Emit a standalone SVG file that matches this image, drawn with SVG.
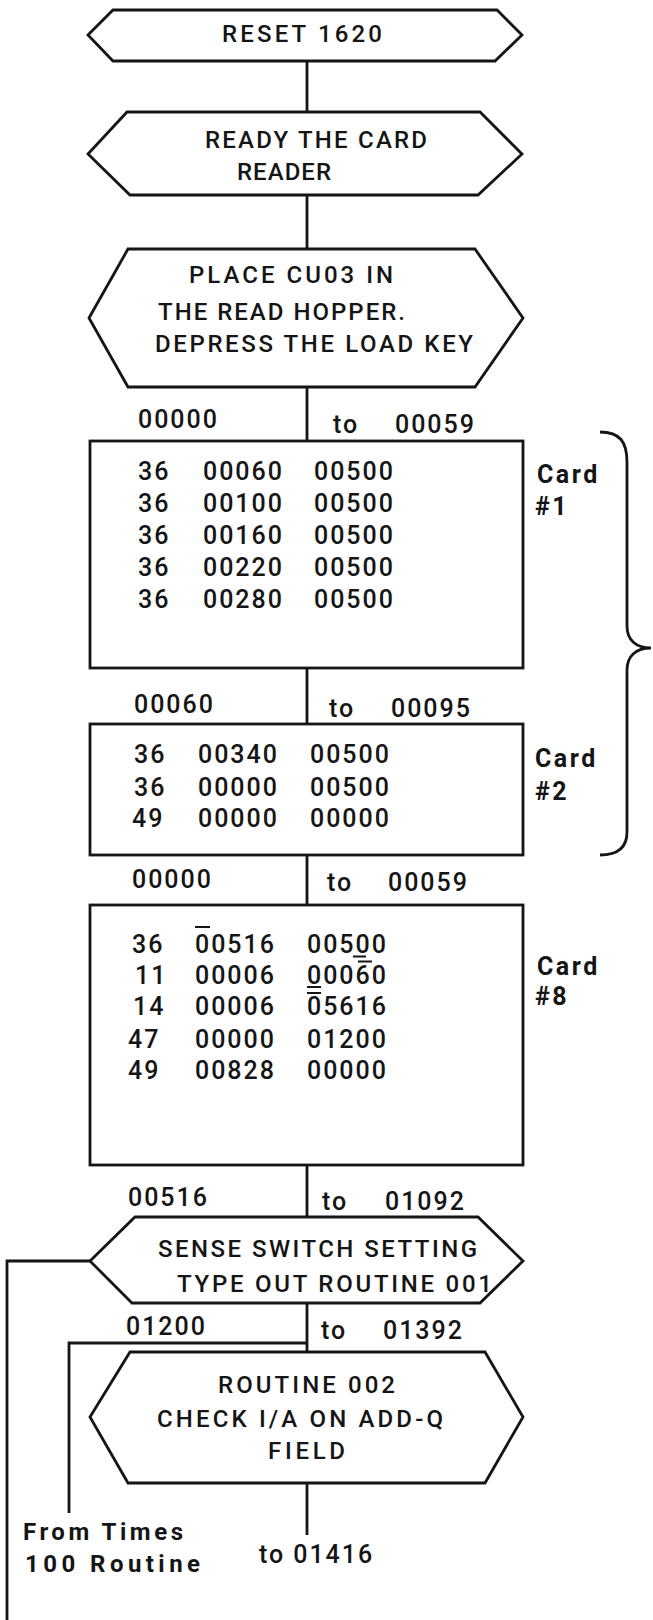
<svg xmlns="http://www.w3.org/2000/svg" width="653" height="1620" viewBox="0 0 653 1620">
<style>
.s{fill:#fff;stroke:#151515;stroke-width:2.8;stroke-linejoin:miter}
.c{fill:none;stroke:#151515;stroke-width:2.8}
.t{font-family:Roboto,"Liberation Sans",sans-serif;font-size:24px;font-weight:500;fill:#151515}
.n{font-family:Roboto,"Liberation Sans",sans-serif;font-size:25px;font-weight:500;fill:#151515;letter-spacing:1.95px}
.b{font-family:Roboto,"Liberation Sans",sans-serif;font-size:25px;font-weight:bold;fill:#151515;letter-spacing:2.5px}
.bb{font-family:Roboto,"Liberation Sans",sans-serif;font-size:24px;font-weight:bold;fill:#151515}
.m{stroke:#151515;stroke-width:2}
</style>
<rect width="653" height="1620" fill="#fff"/>
<g id="connectors">
<path class="c" d="M307,61V112M307,195V249M307,387V441M307,668V724M307,855V905M307,1165V1217M307,1303V1352M307,1483V1535"/>
<path class="c" d="M90,1261H7V1620"/>
<path class="c" d="M307,1343H69V1513"/>
<path class="c" d="M600,432C620,432 627,442 627,462L627,626C627,640 636,648 651,648C636,648 627,656 627,670L627,832C627,846 620,855 600,855"/>
</g>
<g id="reset">
<polygon class="s" points="88,35 113,10 497,10 522,35 495,61 113,61"/>
<text class="t" x="222" y="42" textLength="160">RESET 1620</text>
</g>
<g id="ready">
<polygon class="s" points="88,154 127,112 480,112 522,154 478,195 130,195"/>
<text class="t" x="205" y="148" textLength="222">READY THE CARD</text>
<text class="t" x="237" y="180" textLength="94">READER</text>
</g>
<g id="place">
<polygon class="s" points="89,318 128,249 475,249 523,318 475,387 128,387"/>
<text class="t" x="189" y="283" textLength="204">PLACE CU03 IN</text>
<text class="t" x="158" y="320" textLength="247">THE READ HOPPER.</text>
<text class="t" x="155" y="352" textLength="318">DEPRESS THE LOAD KEY</text>
</g>
<g id="card1">
<text class="n" x="138" y="428">00000</text>
<text class="n" x="333" y="433">to</text>
<text class="n" x="395" y="433">00059</text>
<rect class="s" x="90" y="441" width="433" height="227"/>
<text class="n" y="480"><tspan x="138">36</tspan><tspan x="203">00060</tspan><tspan x="314">00500</tspan></text>
<text class="n" y="512"><tspan x="138">36</tspan><tspan x="203">00100</tspan><tspan x="314">00500</tspan></text>
<text class="n" y="544"><tspan x="138">36</tspan><tspan x="203">00160</tspan><tspan x="314">00500</tspan></text>
<text class="n" y="576"><tspan x="138">36</tspan><tspan x="203">00220</tspan><tspan x="314">00500</tspan></text>
<text class="n" y="608"><tspan x="138">36</tspan><tspan x="203">00280</tspan><tspan x="314">00500</tspan></text>
<text class="b" x="537" y="483">Card</text>
<text class="b" x="535" y="515">#1</text>
</g>
<g id="card2">
<text class="n" x="134" y="713">00060</text>
<text class="n" x="329" y="717">to</text>
<text class="n" x="391" y="717">00095</text>
<rect class="s" x="90" y="724" width="433" height="131"/>
<text class="n" y="763"><tspan x="134">36</tspan><tspan x="198">00340</tspan><tspan x="310">00500</tspan></text>
<text class="n" y="796"><tspan x="134">36</tspan><tspan x="198">00000</tspan><tspan x="310">00500</tspan></text>
<text class="n" y="827"><tspan x="132">49</tspan><tspan x="198">00000</tspan><tspan x="310">00000</tspan></text>
<text class="b" x="535" y="767">Card</text>
<text class="b" x="535" y="800">#2</text>
</g>
<g id="card8">
<text class="n" x="132" y="888">00000</text>
<text class="n" x="327" y="891">to</text>
<text class="n" x="388" y="891">00059</text>
<rect class="s" x="90" y="905" width="433" height="260"/>
<text class="n" y="953"><tspan x="132">36</tspan><tspan x="195">00516</tspan><tspan x="307">00500</tspan></text>
<text class="n" y="984"><tspan x="135">11</tspan><tspan x="195">00006</tspan><tspan x="307">00060</tspan></text>
<text class="n" y="1015"><tspan x="133">14</tspan><tspan x="195">00006</tspan><tspan x="307">05616</tspan></text>
<text class="n" y="1048"><tspan x="128">47</tspan><tspan x="195">00000</tspan><tspan x="307">01200</tspan></text>
<text class="n" y="1079"><tspan x="128">49</tspan><tspan x="195">00828</tspan><tspan x="307">00000</tspan></text>
<path class="m" d="M195,927H210M353,956.5H366M358,961.5H372M307,987H321M307,993H321"/>
<text class="b" x="537" y="975">Card</text>
<text class="b" x="535" y="1005">#8</text>
</g>
<g id="sense">
<text class="n" x="128" y="1206">00516</text>
<text class="n" x="322" y="1210">to</text>
<text class="n" x="385" y="1210">01092</text>
<polygon class="s" points="90,1261 135,1217 478,1217 523,1261 480,1303 132,1303"/>
<text class="t" x="158" y="1257" textLength="319">SENSE SWITCH SETTING</text>
<text class="t" x="177" y="1292" textLength="315">TYPE OUT ROUTINE 001</text>
</g>
<g id="routine">
<text class="n" x="126" y="1335">01200</text>
<text class="n" x="321" y="1339">to</text>
<text class="n" x="383" y="1339">01392</text>
<polygon class="s" points="90,1417 130,1352 485,1352 523,1417 485,1483 128,1483"/>
<text class="t" x="218" y="1393" textLength="177">ROUTINE 002</text>
<text class="t" x="157" y="1427" textLength="286">CHECK I/A ON ADD-Q</text>
<text class="t" x="268" y="1459" textLength="77">FIELD</text>
</g>
<g id="labels">
<text class="bb" x="23" y="1540" textLength="160">From Times</text>
<text class="bb" x="25" y="1572" textLength="175">100 Routine</text>
<text class="n" x="259" y="1563">to 01416</text>
</g>
</svg>
